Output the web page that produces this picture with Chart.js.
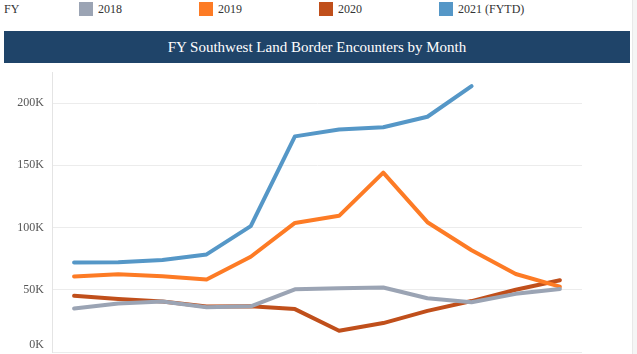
<!DOCTYPE html>
<html>
<head>
<meta charset="utf-8">
<script src="https://cdn.jsdelivr.net/npm/chart.js@4"></script>
<style>
  html, body { margin: 0; padding: 0; background: #fff; width: 637px; height: 354px; overflow: hidden; }
  body { position: relative; font-family: "Liberation Serif", "DejaVu Serif", serif; }
  #legend { position: absolute; top: 0; left: 0; width: 637px; height: 20px; font-size: 12px; color: #333; }
  #legend span { position: absolute; top: 2px; line-height: 14px; }
  #legend i { position: absolute; top: 2px; width: 14px; height: 14px; }
  #banner { position: absolute; top: 31px; left: 4px; width: 626px; height: 32px; background: #1f4469;
            color: #fff; font-size: 15px; line-height: 32px; text-align: center; }
  #edge { position: absolute; top: 0; left: 632px; width: 5px; height: 354px; background: #f5f5f5; border-left: 1px solid #e8e8e8; }
  #wrap { position: absolute; top: 0; left: 0; width: 637px; height: 380px; }
</style>
</head>
<body>
<div id="legend"></div>
<div id="banner">FY Southwest Land Border Encounters by Month</div>
<div id="wrap"><canvas id="chart" width="637" height="380"></canvas></div>
<div id="edge"></div>
<script>
// fiscal year months, Oct..Sep
const months = ["Oct", "Nov", "Dec", "Jan", "Feb", "Mar", "Apr", "May", "Jun", "Jul", "Aug", "Sep"];
const fy2018 = [34869, 39051, 40519, 35905, 36751, 50347, 51168, 51862, 43180, 39953, 46719, 50568];
const fy2019 = [60745, 62469, 60782, 58317, 76545, 103731, 109415, 144116, 104311, 81777, 62707, 52546];
const fy2020 = [45139, 42643, 40565, 36585, 36687, 34460, 17106, 23237, 33049, 40929, 50014, 57674];
const fy2021 = [71929, 72113, 73994, 78414, 101099, 173277, 178795, 180597, 189034, 213593];
const seriesNames = ["2018", "2019", "2020", "2021 (FYTD)"];
const seriesColors = ["#9ba4b4", "#fd7b25", "#c04f1b", "#5597c7"];
const yTicks = [0, 50000, 100000, 150000, 200000];

// legend row (html, with the "FY" caption)
const legend = document.getElementById('legend');
let html = '<span style="left:4px">FY</span>';
seriesNames.forEach((name, i) => {
    const x = 79 + i * 120;
    html += `<i style="left:${x}px;background:${seriesColors[i]}"></i><span style="left:${x + 19}px">${name}</span>`;
});
legend.innerHTML = html;

const allSeries = [fy2018, fy2019, fy2020, fy2021];
const ctx = document.getElementById('chart').getContext('2d');
new Chart(ctx, {
    type: 'line',
    data: {
        labels: months,
        datasets: allSeries.map((d, i) => ({
            label: seriesNames[i],
            data: d,
            borderColor: seriesColors[i],
            backgroundColor: seriesColors[i],
            borderWidth: 4,
            pointRadius: 0,
            tension: 0,
            borderCapStyle: 'round',
            borderJoinStyle: 'round',
            fill: false
        }))
    },
    options: {
        responsive: false,
        animation: false,
        layout: { padding: { top: 72, right: 55, bottom: 28, left: 0 } },
        plugins: { legend: { display: false }, tooltip: { enabled: false } },
        scales: {
            x: {
                display: false,
                offset: true
            },
            y: {
                min: 0,
                max: 225000,
                afterBuildTicks: s => { s.ticks = yTicks.map(v => ({ value: v })); },
                afterFit: s => { s.width = 52; },
                grid: { color: '#ececec', drawTicks: false },
                border: { color: '#e4e4e4' },
                ticks: {
                    padding: 8,
                    color: '#555',
                    font: { family: '"Liberation Serif", serif', size: 12 },
                    callback: v => v === 0 ? ['0K', ''] : (v / 1000) + 'K'
                }
            }
        }
    }
});
</script>
</body>
</html>
